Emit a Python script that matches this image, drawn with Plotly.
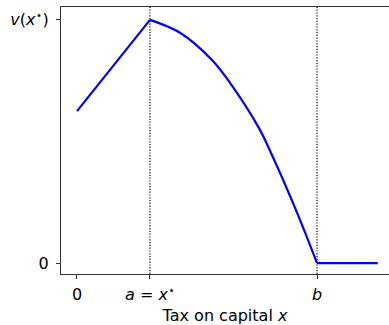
import plotly.graph_objects as go

# Value of taxing capital: rises linearly up to the optimum a = x*,
# then falls along a concave curve until it hits zero at b, and stays there.
a_pos = 1.0
b_pos = 3.288

x_rise = [0.0, 1.0]
v_rise = [0.625, 1.0]

x_fall = [1.0, 1.411, 1.849, 2.096, 2.493, 2.644, 3.0, 3.288]
v_fall = [1.0, 0.947, 0.835, 0.741, 0.555, 0.462, 0.218, 0.0]

x_flat = [3.288, 4.12]
v_flat = [0.0, 0.0]

x_tick_vals = [0.0, a_pos, b_pos]
x_tick_text = ["0", "<i>a</i> = <i>x</i><sup>⋆</sup>", "<i>b</i>"]
y_tick_vals = [0.0, 1.0]
y_tick_text = ["0", "<i>v</i>(<i>x</i><sup>⋆</sup>)"]

font = dict(family="DejaVu Sans", size=16, color="black")
blue = "#0000ff"

fig = go.Figure()
fig.add_trace(go.Scatter(x=x_rise, y=v_rise, mode="lines",
                         line=dict(color=blue, width=2.2), showlegend=False))
fig.add_trace(go.Scatter(x=x_fall, y=v_fall, mode="lines",
                         line=dict(color=blue, width=2.2, shape="spline",
                                   smoothing=1.0),
                         showlegend=False))
fig.add_trace(go.Scatter(x=x_flat, y=v_flat, mode="lines",
                         line=dict(color=blue, width=2.2), showlegend=False))

for xv in (a_pos, b_pos):
    fig.add_shape(type="line", xref="x", yref="paper", x0=xv, x1=xv, y0=0, y1=1,
                  line=dict(color="black", width=1.2, dash="1.2px,1.6px"),
                  layer="below")

fig.update_layout(
    width=389, height=325,
    margin=dict(l=61, r=0, t=7, b=51),
    paper_bgcolor="white", plot_bgcolor="white",
    font=font,
    xaxis=dict(
        range=[-0.219, 4.274],
        tickmode="array", tickvals=x_tick_vals, ticktext=x_tick_text,
        showgrid=False, zeroline=False,
        showline=True, linecolor="#333333", linewidth=1.3, mirror=True,
        ticks="outside", ticklen=4, tickwidth=1.2, tickcolor="#333333",
        ticklabelstandoff=2,
        title=dict(text="Tax on capital <i>x</i>", font=font, standoff=7),
    ),
    yaxis=dict(
        range=[-0.045, 1.053],
        tickmode="array", tickvals=y_tick_vals, ticktext=y_tick_text,
        showgrid=False, zeroline=False,
        showline=True, linecolor="#333333", linewidth=1.3, mirror=False,
        ticks="outside", ticklen=4, tickwidth=1.2, tickcolor="#333333",
        ticklabelstandoff=4,
    ),
)

fig.write_html("out.html")
